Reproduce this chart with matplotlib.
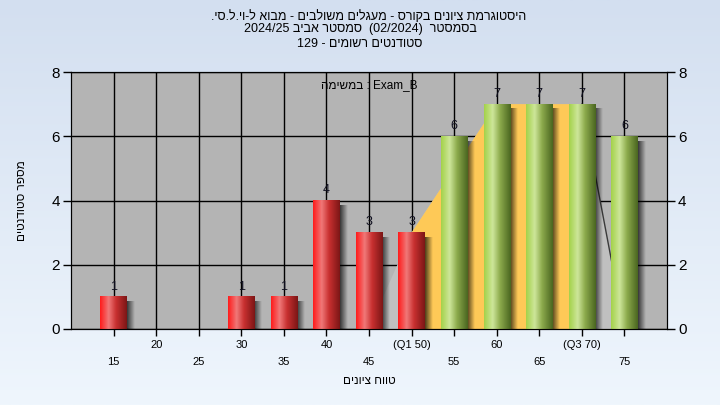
import re
import numpy as np
import matplotlib
matplotlib.use('Agg')
import matplotlib.pyplot as plt
from matplotlib.colors import LinearSegmentedColormap

plt.rcParams['font.family'] = ['Liberation Sans', 'DejaVu Sans']

grades = [15, 20, 25, 30, 35, 40, 45, 50, 55, 60, 65, 70, 75]
counts = [1, 0, 0, 1, 1, 4, 3, 3, 6, 7, 7, 7, 6]
tick_labels = ['15', '20', '25', '30', '35', '40', '45', '(Q1 50)', '55', '60', '65', '(Q3 70)', '75']
pass_grade = 55
spread_x = [45, 50, 60, 70, 75]
spread_y = [0, 3, 7, 7, 0]
iqr_x = [50, 50, 60, 70, 70]
iqr_y = [0, 3, 7, 7, 0]

title_lines = ['היסטוגרמת ציונים בקורס - מעגלים משולבים - מבוא ל-וי.ל.סי.',
               'בסמסטר  (02/2024)  סמסטר אביב 2024/25',
               'סטודנטים רשומים - 129']
series_label = 'Exam_B : במשימה'
xlabel = 'טווח ציונים'
ylabel = 'מספר סטודנטים'

MIRROR = str.maketrans('()', ')(')


def visual(s):
    # matplotlib has no bidi support, so put right-to-left text in display order
    parts = re.findall(r'[A-Za-z0-9](?:[A-Za-z0-9/._]*[A-Za-z0-9])?|[^A-Za-z0-9]+', s)
    out = []
    for p in reversed(parts):
        if p[0].isascii() and p[0].isalnum():
            out.append(p)
        else:
            out.append(p[::-1].translate(MIRROR))
    return ''.join(out)


fig = plt.figure(figsize=(7.2, 4.05), dpi=100)
bg = fig.add_axes([0, 0, 1, 1], zorder=-10)
bg.imshow(np.linspace(0, 1, 256)[:, None], aspect='auto', extent=(0, 1, 0, 1),
          cmap=LinearSegmentedColormap.from_list('bg', ['#d3dff0', '#eff6fd']))
bg.axis('off')

ax = fig.add_axes([71 / 720, 76 / 405, 596 / 720, 257 / 405])
ax.set_facecolor('#b4b4b4')

# spread and inter-quartile areas behind the bars
ax.fill(spread_x, spread_y, color='#c0c0c0', lw=0, zorder=1)
ax.fill(iqr_x, iqr_y, color='#fec957', lw=0, zorder=1.2)
ax.plot(spread_x[-2:], spread_y[-2:], color='#3a3a3a', lw=1, zorder=1.3)

red = LinearSegmentedColormap.from_list('red', [(0, '#ff1c1c'), (0.32, '#f07878'), (0.6, '#c83030'), (1, '#7c1616')])
green = LinearSegmentedColormap.from_list('green', [(0, '#a4d24a'), (0.32, '#cde69a'), (0.6, '#8caa4c'), (1, '#4a6620')])
row = np.linspace(0, 1, 64)[None, :]
shadow = np.zeros((1, 32, 4))
shadow[..., 3] = np.linspace(0.7, 0, 32)
w = 3.1
for g, c in zip(grades, counts):
    if c == 0:
        continue
    cm = green if g >= pass_grade else red
    ax.imshow(row, cmap=cm, aspect='auto', extent=(g - w / 2, g + w / 2, 0, c),
              zorder=3, interpolation='bilinear')
    ax.imshow(shadow, aspect='auto', extent=(g + w / 2, g + w / 2 + 0.85, 0, c - 0.15),
              zorder=2.5, interpolation='bilinear')
    ax.annotate(str(c), (g, c), xytext=(0, 3), textcoords='offset points',
                ha='center', va='bottom', fontsize=9, color='#101020', zorder=4)

ax.set_xlim(10, 80)
ax.set_ylim(0, 8)
ax.set_xticks(grades)
ax.set_yticks(range(0, 9, 2))
ax.set_axisbelow(True)
ax.grid(True, color='black', lw=1)
ax.tick_params(axis='x', length=5, width=1, labelbottom=False)
ax.tick_params(axis='y', length=6, width=1, labelsize=11, pad=2)
for sp in ax.spines.values():
    sp.set_color('black')

for i, (g, lab) in enumerate(zip(grades, tick_labels)):
    yv = -0.062 if i % 2 else -0.128
    ax.text(g, yv, lab, transform=ax.get_xaxis_transform(), ha='center', va='center', fontsize=8)

ax.set_xlabel(visual(xlabel), fontsize=8.5)
ax.xaxis.set_label_coords(0.5, -0.18)
ax.set_ylabel(visual(ylabel), fontsize=8.5)
ax.yaxis.set_label_coords(-0.072, 0.5)

ax2 = ax.twinx()
ax2.set_ylim(0, 8)
ax2.set_yticks(range(0, 9, 2))
ax2.tick_params(axis='y', length=6, width=1, labelsize=11, pad=2)

ax.text(0.5, 0.95, visual(series_label), transform=ax.transAxes, ha='center', va='center',
        fontsize=8.5, zorder=5)

fig.text(0.512, 1 - 17 / 405, visual(title_lines[0]), ha='center', va='center', fontsize=9)
fig.text(0.5, 1 - 29 / 405, visual(title_lines[1]), ha='center', va='center', fontsize=9)
fig.text(0.5, 1 - 44 / 405, visual(title_lines[2]), ha='center', va='center', fontsize=9)

fig.savefig('out.png', dpi=100)
